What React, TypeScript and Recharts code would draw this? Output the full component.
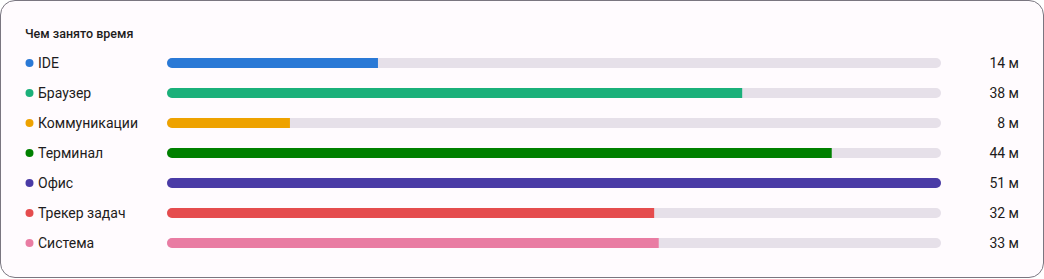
import { BarChart, Bar, XAxis, YAxis } from 'recharts';

const CATEGORIES = ['IDE', 'Браузер', 'Коммуникации', 'Терминал', 'Офис', 'Трекер задач', 'Система'];
// minutes (labels below are rounded)
const MINUTES = [13.9, 37.9, 8.1, 43.8, 51, 32.1, 32.4];
const VALUE_LABELS = ['14 м', '38 м', '8 м', '44 м', '51 м', '32 м', '33 м'];
const COLORS = ['#2a79d6', '#1bb07a', '#eea200', '#008000', '#4a3ba6', '#e54c4e', '#e97ca3'];

const data = CATEGORIES.map((name, i) => ({
  name,
  value: MINUTES[i],
  label: VALUE_LABELS[i],
  color: COLORS[i],
}));

const FONT = 'Roboto, "Noto Sans", sans-serif';
const TRACK = '#e6e0e9';

function LeftTick({ x, y, payload, index }: any) {
  const color = COLORS[index] ?? '#1d1b20';
  const left = x - 159;
  return (
    <g>
      <circle cx={left + 29.5} cy={y} r={4} fill={color} />
      <text x={left + 38} y={y} dy={5} fontSize={14} fill="#1d1b20" fontFamily={FONT} textAnchor="start">
        {payload.value}
      </text>
    </g>
  );
}

function RightTick({ x, y, payload }: any) {
  const row = data.find((d) => d.name === payload.value);
  return (
    <text x={x + 70} y={y} dy={5} fontSize={14} fill="#1d1b20" fontFamily={FONT} textAnchor="end">
      {row ? row.label : ''}
    </text>
  );
}

function FillShape(props: any) {
  const { x, y, width, height, payload, background, index } = props;
  const bg = background ?? { x, y, width, height };
  const id = `track-clip-${index}`;
  return (
    <g>
      <defs>
        <clipPath id={id}>
          <rect x={bg.x} y={y} width={bg.width} height={height} rx={5} ry={5} />
        </clipPath>
      </defs>
      <rect x={x} y={y} width={width} height={height} fill={payload.color} clipPath={`url(#${id})`} />
    </g>
  );
}

export default function App() {
  return (
    <div style={{ position: 'fixed', left: 0, top: 0, width: 1044, height: 279, fontFamily: FONT }}>
      <div
        style={{
          position: 'absolute',
          left: 0,
          top: 0,
          width: 1044,
          height: 278,
          boxSizing: 'border-box',
          border: '1px solid #7a7680',
          borderRadius: 15,
          background: '#fffbfe',
        }}
      />
      <div
        style={{
          position: 'absolute',
          left: 25,
          top: 26,
          fontSize: 12.5,
          fontWeight: 500,
          color: '#1d1b20',
        }}
      >
        Чем занято время
      </div>
      <div style={{ position: 'absolute', left: 0, top: 0 }}>
        <BarChart
          width={1044}
          height={279}
          data={data}
          layout="vertical"
          margin={{ top: 48, right: 0, bottom: 21, left: 0 }}
          barCategoryGap={0}
        >
          <XAxis type="number" domain={[0, 51]} hide />
          <YAxis
            yAxisId="left"
            type="category"
            dataKey="name"
            width={167}
            axisLine={false}
            tickLine={false}
            tick={<LeftTick />}
            interval={0}
          />
          <YAxis
            yAxisId="right"
            orientation="right"
            type="category"
            dataKey="name"
            width={103}
            axisLine={false}
            tickLine={false}
            tick={<RightTick />}
            interval={0}
          />
          <Bar
            yAxisId="left"
            dataKey="value"
            barSize={10}
            background={{ fill: TRACK, radius: 5 }}
            isAnimationActive={false}
            shape={<FillShape />}
          />
        </BarChart>
      </div>
    </div>
  );
}
